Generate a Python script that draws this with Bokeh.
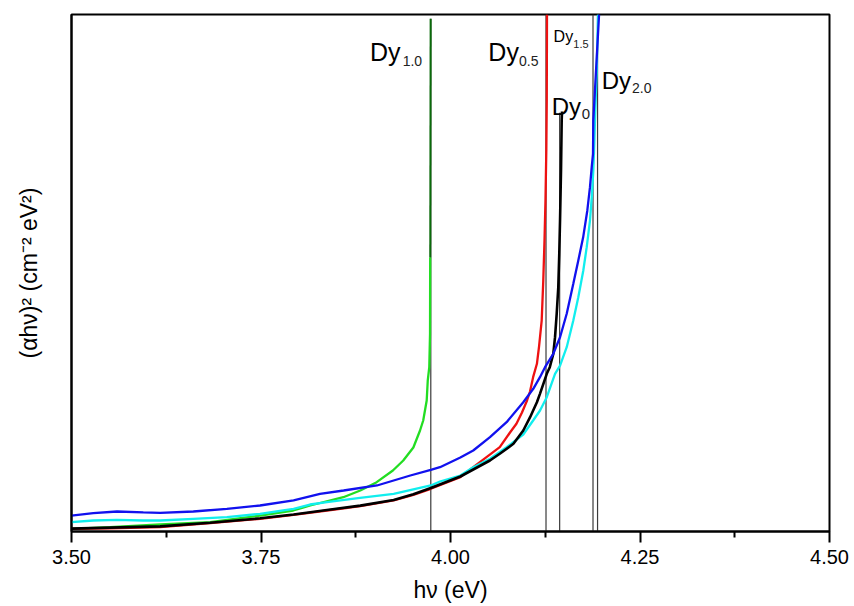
from bokeh.plotting import figure
from bokeh.models import Range1d, FixedTicker
from bokeh.embed import file_html
from bokeh.resources import INLINE
from bokeh.core.properties import value

FONT = "Liberation Sans"

# ---- axis ticks ----
x_ticks = [3.50, 3.75, 4.00, 4.25, 4.50]
x_tick_labels = ["3.50", "3.75", "4.00", "4.25", "4.50"]
x_minor_ticks = [3.625, 3.875, 4.125, 4.375]

# ---- series (hv in eV, (alpha h nu)^2 in arbitrary units 0-100) ----
dy0_x = [3.500, 3.551, 3.617, 3.683, 3.749, 3.793, 3.837, 3.881, 3.925, 3.951,
         3.974, 4.013, 4.052, 4.065, 4.083, 4.096, 4.105, 4.114, 4.118, 4.127,
         4.131, 4.1356, 4.1379, 4.1401, 4.1422, 4.1435, 4.1445, 4.1458, 4.1467,
         4.1471]
dy0_y = [0.55, 0.75, 1.00, 1.70, 2.55, 3.30, 4.16, 5.00, 6.09, 7.20,
         8.41, 10.64, 13.73, 15.03, 16.96, 19.54, 22.11, 25.01, 26.63, 30.50,
         31.78, 34.37, 37.58, 42.11, 47.25, 53.71, 60.15, 69.83, 79.50,
         81.24]

dy05_x = [3.500, 3.551, 3.617, 3.683, 3.749, 3.793, 3.837, 3.881, 3.925, 3.951,
          3.974, 4.013, 4.030, 4.065, 4.0785, 4.087, 4.0943, 4.101, 4.1049,
          4.109, 4.114, 4.1168, 4.1203, 4.1224, 4.1240, 4.1253, 4.1264, 4.1270,
          4.1273]
dy05_y = [0.52, 0.62, 0.83, 1.61, 2.46, 3.23, 4.06, 4.89, 6.00, 7.10,
          8.26, 10.50, 12.44, 16.31, 19.15, 20.83, 23.02, 25.34, 27.08,
          29.85, 32.44, 35.78, 40.81, 48.55, 56.29, 64.02, 73.69, 83.37,
          100.0]

dy10_x = [3.500, 3.5508, 3.617, 3.6827, 3.749, 3.7926, 3.815, 3.8586, 3.881,
          3.9026, 3.924, 3.9377, 3.951, 3.9598, 3.964, 3.9686, 3.970, 3.9720,
          3.9730, 3.9732]
dy10_y = [0.52, 0.83, 1.35, 1.80, 3.09, 4.06, 5.03, 6.63, 7.93,
          9.54, 11.80, 13.73, 16.25, 19.54, 21.47, 25.34, 29.21, 31.78,
          38.24, 53.06]
dy10_top_x = [3.9733, 3.9738]
dy10_top_y = [53.06, 99.2]

dy15_x = [3.500, 3.5288, 3.560, 3.5947, 3.617, 3.6607, 3.705, 3.7487, 3.793,
          3.8278, 3.859, 3.903, 3.947, 3.974, 3.9861, 4.013, 4.030, 4.0521,
          4.074, 4.096, 4.1092, 4.118, 4.1247, 4.1356, 4.1445, 4.1533, 4.162,
          4.1686, 4.175, 4.1805, 4.184, 4.1863, 4.188, 4.1884, 4.192, 4.196]
dy15_y = [3.09, 3.54, 3.87, 3.68, 3.62, 3.87, 4.39, 5.03, 6.00,
          7.29, 7.93, 8.90, 10.83, 11.93, 12.44, 14.30, 15.67, 18.24,
          21.14, 25.01, 27.60, 29.85, 31.78, 34.37, 37.58, 42.11, 47.90,
          52.42, 56.90, 62.09, 66.60, 70.47, 73.06, 79.50, 89.20, 100.0]

dy20_x = [3.500, 3.5288, 3.560, 3.5947, 3.617, 3.6607, 3.705, 3.7487, 3.793,
          3.8146, 3.837, 3.8806, 3.925, 3.974, 3.9861, 4.013, 4.030, 4.0521,
          4.074, 4.096, 4.109, 4.1181, 4.127, 4.1379, 4.1445, 4.1533, 4.162,
          4.1686, 4.1752, 4.1797, 4.184, 4.1867, 4.1884, 4.1897, 4.1906, 4.1929,
          4.1946]
dy20_y = [1.80, 2.13, 2.26, 2.13, 2.13, 2.45, 2.77, 3.42, 4.39,
          5.22, 5.67, 6.51, 7.29, 8.90, 9.67, 10.83, 12.44, 14.06,
          16.31, 18.76, 21.47, 23.40, 25.98, 30.50, 32.10, 35.65, 40.81,
          45.32, 50.48, 54.99, 60.15, 65.32, 69.83, 74.99, 79.50, 89.17,
          100.0]

# tangent (extrapolation) lines to the energy axis
tangent_x = [3.974, 4.126, 4.144, 4.188, 4.194]
tangent_top = [99.2, 100.0, 81.0, 100.0, 100.0]

# ---- curve labels: "Dy" + subscript ----
lab_main_x = [4.1335, 4.0499, 3.8938, 4.1360, 4.1995]
lab_main_y = [82.21, 92.71, 92.71, 95.74, 87.23]
lab_main_size = ["24px", "25px", "25px", "16px", "24px"]
lab_sub_text = ["0", "0.5", "1.0", "1.5", "2.0"]
lab_sub_x = [4.1731, 4.0904, 3.9369, 4.1620, 4.2395]
lab_sub_y = [80.85, 91.10, 91.10, 94.33, 85.69]
lab_sub_size = ["15px", "14px", "14px", "11px", "14px"]

p = figure(frame_width=758, frame_height=517,
           min_border_left=71, min_border_right=22, min_border_top=14,
           min_border_bottom=60,
           output_backend="svg", toolbar_location=None,
           x_range=Range1d(3.5, 4.5), y_range=Range1d(0, 100))
p.background_fill_color = "white"
p.border_fill_color = "white"
p.grid.visible = False
p.outline_line_color = "black"
p.outline_line_width = 2

# x axis
xa = p.xaxis[0]
xa.ticker = FixedTicker(ticks=x_ticks, minor_ticks=x_minor_ticks)
xa.major_label_overrides = {t: s for t, s in zip(x_ticks, x_tick_labels)}
xa.major_tick_in = 0
xa.major_tick_out = 11
xa.minor_tick_in = 0
xa.minor_tick_out = 6
xa.axis_line_width = 2
xa.major_tick_line_width = 2
xa.minor_tick_line_width = 2
xa.major_label_text_font = FONT
xa.major_label_text_font_size = "20px"
xa.major_label_text_color = "black"
xa.major_label_standoff = 7
xa.axis_label = "hν (eV)"
xa.axis_label_text_font = FONT
xa.axis_label_text_font_size = "23px"
xa.axis_label_text_font_style = "normal"
xa.axis_label_text_color = "black"
xa.axis_label_standoff = 10

# y axis
ya = p.yaxis[0]
ya.ticker = FixedTicker(ticks=[])
ya.major_tick_line_color = None
ya.minor_tick_line_color = None
ya.axis_line_width = 2
ya.axis_label = "(αhν)² (cm⁻² eV²)"
ya.axis_label_text_font = FONT
ya.axis_label_text_font_size = "23px"
ya.axis_label_text_font_style = "normal"
ya.axis_label_text_color = "black"
ya.axis_label_standoff = 30

# tangent lines
for tx, tt in zip(tangent_x, tangent_top):
    p.line([tx, tx], [0, tt], line_color="#3a3a3a", line_width=1.2)

lw = 2.3
p.line(dy10_x, dy10_y, line_color="#22dd22", line_width=lw)
p.line(dy10_top_x, dy10_top_y, line_color="#0a6a0a", line_width=2)
p.line(dy05_x, dy05_y, line_color="#ee1111", line_width=lw)
p.line(dy20_x, dy20_y, line_color="#11eeee", line_width=lw)
p.line(dy0_x, dy0_y, line_color="black", line_width=2.6)
p.line(dy15_x, dy15_y, line_color="#1111ee", line_width=lw)

for i in range(len(lab_main_x)):
    p.text([lab_main_x[i]], [lab_main_y[i]], text=["Dy"],
           text_font=value(FONT), text_font_size=lab_main_size[i],
           text_color="black", text_align="left", text_baseline="alphabetic")
    p.text([lab_sub_x[i]], [lab_sub_y[i]], text=[lab_sub_text[i]],
           text_font=value(FONT), text_font_size=lab_sub_size[i],
           text_color="#222222", text_align="left", text_baseline="alphabetic")

open("out.html", "w").write(file_html(p, INLINE))
